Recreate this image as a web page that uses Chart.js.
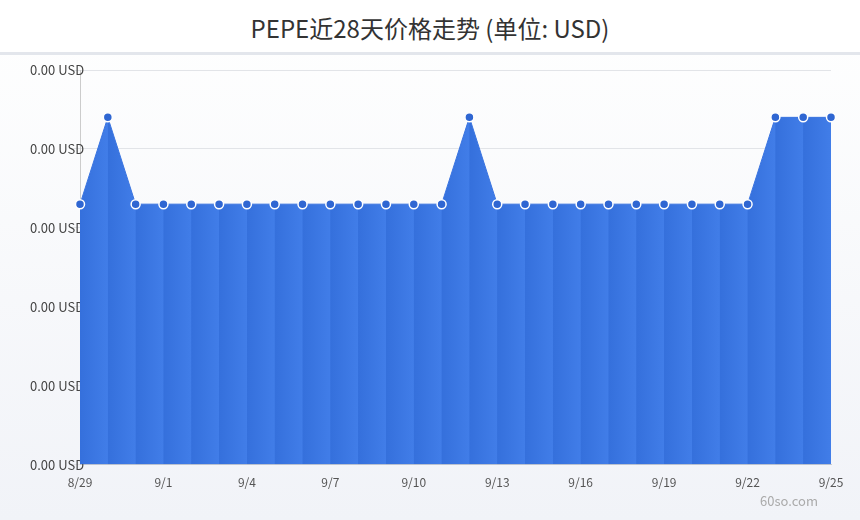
<!DOCTYPE html>
<html><head><meta charset="utf-8">
<script src="https://cdn.jsdelivr.net/npm/chart.js@4"></script>
<style>
body{margin:0;width:860px;height:520px;background:linear-gradient(#fff,#f1f3f8);font-family:"Noto Sans CJK SC","Noto Sans",sans-serif;position:relative;overflow:hidden}
#hdr{height:52px;border-bottom:3px solid #e3e6ec;text-align:center;font-size:24px;line-height:56px;color:#333;background:#fff}
#wrap{position:absolute;left:0;top:56px;width:860px;height:440px}
#wm{position:absolute;right:42px;bottom:10px;color:#aaa;font-size:13px}
</style></head><body>
<div id="hdr">PEPE近28天价格走势 (单位: USD)</div>
<div id="wrap"><canvas id="c"></canvas></div>
<div id="wm">60so.com</div>
<script>
const labels=["8/29","8/30","8/31","9/1","9/2","9/3","9/4","9/5","9/6","9/7","9/8","9/9","9/10","9/11","9/12","9/13","9/14","9/15","9/16","9/17","9/18","9/19","9/20","9/21","9/22","9/23","9/24","9/25"];
const prices=[0.0000066,0.0000088,0.0000066,0.0000066,0.0000066,0.0000066,0.0000066,0.0000066,0.0000066,0.0000066,0.0000066,0.0000066,0.0000066,0.0000066,0.0000088,0.0000066,0.0000066,0.0000066,0.0000066,0.0000066,0.0000066,0.0000066,0.0000066,0.0000066,0.0000066,0.0000088,0.0000088,0.0000088];
Chart.defaults.font.family='"Noto Sans CJK SC","Noto Sans",sans-serif';
function stripeFill(ctx){
  const ch=ctx.chart,a=ch.chartArea,xs=ch.scales.x;
  if(!a||!xs) return '#3a74e0';
  const w=a.right-a.left,g=ch.ctx.createLinearGradient(a.left,0,a.right,0);
  for(let i=0;i<labels.length-1;i++){
    const p0=(xs.getPixelForValue(i)-a.left)/w,p1=(xs.getPixelForValue(i+1)-a.left)/w;
    g.addColorStop(Math.max(0,Math.min(1,p0+0.0005)),'#3570dc');
    g.addColorStop(Math.max(0,Math.min(1,p1-0.0005)),'#417de8');
  }
  return g;
}
new Chart(document.getElementById('c'),{type:'line',
data:{labels,datasets:[{data:prices,fill:'origin',backgroundColor:stripeFill,borderColor:'#3a74e0',borderWidth:1,tension:0,
pointRadius:4.5,pointBackgroundColor:'#2f66d2',pointBorderColor:'#fff',pointBorderWidth:1.5}]},
options:{responsive:true,maintainAspectRatio:false,animation:false,
layout:{padding:{left:80,right:29,top:14,bottom:3}},
plugins:{legend:{display:false},tooltip:{enabled:false}},
scales:{
x:{grid:{display:false},border:{color:'#ccc'},ticks:{autoSkip:false,maxRotation:0,color:'#555',font:{size:12},callback:(v,i)=>i%3===0?labels[i]:''}},
y:{min:0,max:0.00001,afterFit:s=>{s.width=0},ticks:{mirror:true,stepSize:0.000002,padding:-50,color:'#444',font:{size:13},callback:v=>v.toFixed(2)+' USD'},grid:{color:'#e2e4e8'},border:{color:'#ccc'}}
}}});
</script></body></html>
